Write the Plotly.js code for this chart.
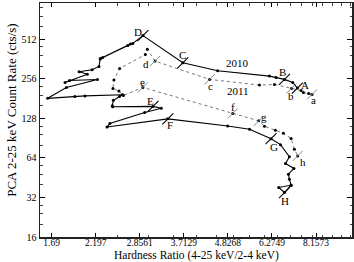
<!DOCTYPE html>
<html>
<head>
<meta charset="utf-8">
<script src="https://cdn.plot.ly/plotly-3.0.1.min.js"></script>
<style>html,body{margin:0;padding:0;background:#fff;}#chart{width:354px;height:262px;}</style>
</head>
<body>
<div id="chart"></div>
<script>
// 2010 outburst (solid)
const hr2010 = [7.30, 7.10, 6.76, 6.43, 6.18, 4.54, 3.69, 2.91, 2.74, 2.26, 2.70, 2.29, 2.66, 2.255, 2.24, 2.15, 1.99, 2.09, 1.83, 1.88, 2.22, 1.845, 1.65, 1.94, 2.06, 2.58, 2.53, 2.44, 2.425, 2.43, 3.09, 3.245, 2.94, 2.39, 2.35, 3.375, 4.82, 5.49, 6.24, 6.60, 6.96, 6.80, 7.15, 6.92, 6.96, 7.03, 6.53, 6.76, 7.03];
const rate2010 = [217.7, 240.7, 253.7, 262.7, 268.8, 295.0, 339.5, 547, 477, 365.5, 471, 372, 459, 362, 318, 300, 290, 278, 240, 249, 253, 220, 182, 188, 190, 194, 188, 176, 160, 157, 158, 153, 142, 117, 110, 127, 112, 106, 89.7, 80.8, 65.4, 58.0, 53.2, 48.1, 44.1, 39.7, 38.1, 34.9, 39.7];
const labels2010 = ['A', 'B', 'C', 'D', 'E', 'F', 'G', 'H'];
const labelIdx2010 = [0, 2, 6, 7, 30, 35, 38, 47];

// 2011 outburst (dotted)
const hr2011 = [7.965, 7.806, 7.564, 7.461, 7.044, 6.366, 5.824, 4.325, 3.128, 2.987, 2.951, 2.533, 2.448, 2.434, 2.522, 2.591, 2.909, 4.968, 5.800, 6.000, 6.404, 6.716, 7.031, 7.171, 7.312];
const rate2011 = [195.0, 198.5, 201.3, 208.4, 216.6, 232.4, 229.5, 253.7, 349.8, 429.7, 392.1, 306.6, 250.6, 215.9, 206.6, 191.6, 220.4, 139.7, 122.6, 111.7, 104.2, 98.8, 90.0, 74.6, 66.3];
const labels2011 = ['a', 'b', 'c', 'd', 'e', 'f', 'g', 'h'];
const labelIdx2011 = [0, 4, 7, 10, 16, 17, 19, 24];
const tickIdx2011 = [0, 4, 7, 8, 16, 17, 18, 24];

// axis ticks
const xTicks = [1.69, 2.197, 2.8561, 3.7129, 4.8268, 6.2749, 8.1573];
const xTickText = ['1.69', '2.197', '2.8561', '3.7129', '4.8268', '6.2749', '8.1573'];
const xMinor = [2.5, 3.0, 3.5, 4.0, 4.5, 5.0, 5.5, 6.0, 6.5, 7.0, 7.5, 8.0, 8.5, 9.0, 9.5, 10.0];
const yTicks = [16, 32, 64, 128, 256, 512];
const yMinor = [20, 24, 28, 40, 48, 56, 80, 96, 112, 160, 192, 224, 320, 384, 448, 640, 768, 896];

// year text labels
const yearText = ['2010', '2011'];
const yearHr = [5.12, 5.12];
const yearRate = [339.5, 207.7];

// axis titles
const xTitle = 'Hardness Ratio (4-25 keV/2-4 keV)';
const yTitle = 'PCA 2-25 keV Count Rate (cts/s)';

// label offsets (px)
const off2010 = [[8, 3], [-2, 7], [0, 8], [-5, 4], [-3, 5.5], [2.5, -6], [2.5, -8], [0, -8]];
const off2011 = [[1, -6], [0, -7.5], [1.5, -7], [1, -9], [-0.5, 5], [0, 6], [0, 9], [5, -6]];

const serif = 'Liberation Serif, Times New Roman, serif';

const traces = [
  {x: hr2011, y: rate2011, mode: 'lines+markers', type: 'scatter',
   line: {color: '#777', width: 1, dash: 'dot'},
   marker: {color: '#000', size: 3}, hoverinfo: 'none'},
  {x: hr2010, y: rate2010, mode: 'lines+markers', type: 'scatter',
   line: {color: '#000', width: 1.1},
   marker: {color: '#000', size: 3}, hoverinfo: 'none'},
  {x: labelIdx2010.map(i => hr2010[i]), y: labelIdx2010.map(i => rate2010[i]), mode: 'markers', type: 'scatter',
   marker: {symbol: 'line-ne', size: 11, line: {color: '#000', width: 1.1}}, hoverinfo: 'none'},
  {x: tickIdx2011.map(i => hr2011[i]), y: tickIdx2011.map(i => rate2011[i]), mode: 'markers', type: 'scatter',
   marker: {symbol: 'line-ne', size: 10, line: {color: '#888', width: 1}}, hoverinfo: 'none'}
];

const annotations = [];
labels2010.forEach((t, k) => {
  const i = labelIdx2010[k];
  annotations.push({x: Math.log10(hr2010[i]), y: Math.log10(rate2010[i]), xref: 'x', yref: 'y', text: t,
    showarrow: false, xshift: off2010[k][0], yshift: off2010[k][1], font: {family: serif, size: 11, color: '#000'}});
});
labels2011.forEach((t, k) => {
  const i = labelIdx2011[k];
  annotations.push({x: Math.log10(hr2011[i]), y: Math.log10(rate2011[i]), xref: 'x', yref: 'y', text: t,
    showarrow: false, xshift: off2011[k][0], yshift: off2011[k][1], font: {family: serif, size: 11, color: '#000'}});
});
yearText.forEach((t, k) => {
  annotations.push({x: Math.log10(yearHr[k]), y: Math.log10(yearRate[k]), xref: 'x', yref: 'y', text: t,
    showarrow: false, font: {family: serif, size: 11, color: '#000'}});
});
annotations.push({xref: 'paper', yref: 'paper', x: 0.5, y: -0.0796, xanchor: 'center', yanchor: 'middle',
  text: xTitle, showarrow: false, font: {family: serif, size: 11.5, color: '#000'}});
annotations.push({xref: 'paper', yref: 'paper', x: -0.091, y: 0.542, xanchor: 'center', yanchor: 'middle', textangle: -90,
  text: yTitle, showarrow: false, font: {family: serif, size: 13, color: '#000'}});

const layout = {
  width: 354, height: 262,
  margin: {l: 40, r: 1.5, t: 3, b: 25.3},
  paper_bgcolor: '#fff', plot_bgcolor: '#fff',
  showlegend: false,
  font: {family: serif, size: 10, color: '#000'},
  xaxis: {
    type: 'log', range: [0.1977, 1.0045],
    tickmode: 'array', tickvals: xTicks, ticktext: xTickText,
    ticks: 'inside', ticklen: 4, tickwidth: 1, tickcolor: '#000',
    ticklabelstandoff: -4,
    minor: {tickmode: 'array', tickvals: xMinor, ticks: 'inside', ticklen: 2.5, tickcolor: '#444', tickwidth: 1},
    showline: true, linecolor: '#222', linewidth: 1.5, mirror: 'allticks',
    showgrid: false, zeroline: false,
    tickfont: {family: serif, size: 9.5, color: '#000'}
  },
  yaxis: {
    type: 'log', range: [1.2041, 2.986],
    tickmode: 'array', tickvals: yTicks, ticktext: yTicks.map(String),
    ticks: 'inside', ticklen: 5, tickwidth: 1, tickcolor: '#000',
    minor: {tickmode: 'array', tickvals: yMinor, ticks: 'inside', ticklen: 2.5, tickcolor: '#444', tickwidth: 1},
    showline: true, linecolor: '#222', linewidth: 1.5, mirror: 'allticks',
    showgrid: false, zeroline: false,
    tickfont: {family: serif, size: 10, color: '#000'}
  },
  annotations: annotations
};

Plotly.newPlot('chart', traces, layout, {displayModeBar: false, staticPlot: true});
</script>
</body>
</html>
